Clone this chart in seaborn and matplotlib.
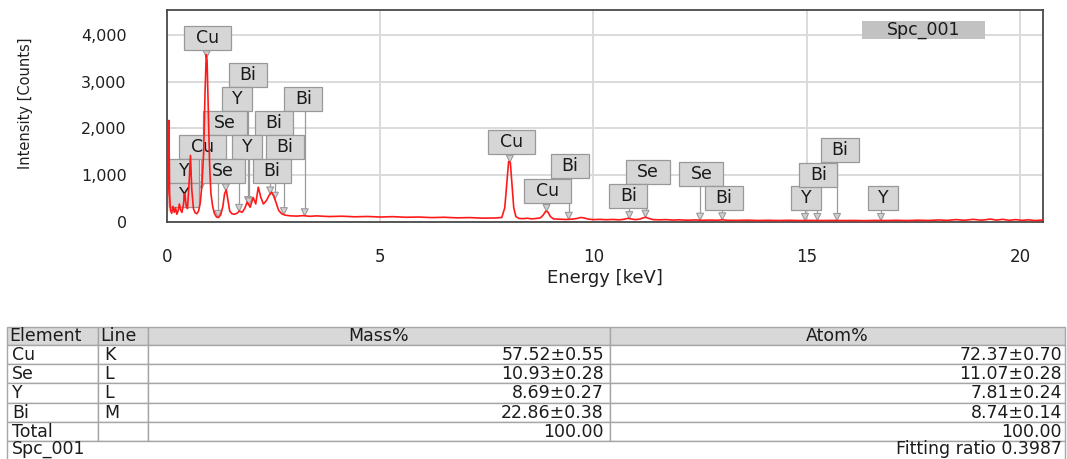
import numpy as np
import matplotlib
matplotlib.use("Agg")
import matplotlib.pyplot as plt
from matplotlib.patches import Rectangle, Polygon
from matplotlib.ticker import MultipleLocator, StrMethodFormatter
import seaborn as sns

# ---------------- spectrum (energy in keV, intensity in counts) ----------------
energy_kev = [
    0.00, 0.02, 0.03, 0.045, 0.06, 0.08, 0.11, 0.14, 0.17, 0.20, 0.23, 0.26, 0.29, 0.32,
    0.35, 0.38, 0.42, 0.45, 0.48, 0.51, 0.55, 0.58, 0.62, 0.66, 0.70, 0.74, 0.78, 0.82,
    0.86, 0.89, 0.92, 0.94, 0.97, 1.00, 1.03, 1.07, 1.11, 1.16, 1.21, 1.26, 1.31, 1.35,
    1.39, 1.43, 1.47, 1.52, 1.58, 1.64, 1.70, 1.76, 1.82, 1.88, 1.95, 2.02, 2.08, 2.14,
    2.20, 2.26, 2.33, 2.39, 2.45, 2.50, 2.56, 2.62, 2.69, 2.77, 2.90, 3.05, 3.20, 3.35,
    3.50, 3.80, 4.10, 4.40, 4.70, 5.00, 5.30, 5.60, 5.90, 6.20, 6.50, 6.80, 7.10, 7.40,
    7.70, 7.85, 7.92, 7.97, 8.01, 8.05, 8.09, 8.13, 8.18, 8.25, 8.35, 8.45, 8.55, 8.65,
    8.75, 8.82, 8.88, 8.93, 8.99, 9.06, 9.20, 9.35, 9.50, 9.62, 9.70, 9.78, 9.88, 10.00,
    10.15, 10.30, 10.45, 10.60, 10.72, 10.80, 10.88, 10.98, 11.08, 11.16, 11.22, 11.30,
    11.40, 11.55, 11.70, 11.85, 12.00, 12.20, 12.40, 12.55, 12.70, 12.90, 13.02, 13.15,
    13.35, 13.60, 13.85, 14.10, 14.35, 14.60, 14.85, 15.10, 15.35, 15.60, 15.85, 16.10,
    16.35, 16.60, 16.85, 17.10, 17.35, 17.60, 17.85, 18.10, 18.30, 18.50, 18.70, 18.90,
    19.10, 19.30, 19.45, 19.60, 19.75, 19.90, 20.05, 20.20, 20.35, 20.54,
]
counts = [
    60, 700, 900, 2170, 600, 250, 180, 330, 200, 300, 160, 230, 380, 250,
    200, 340, 600, 330, 280, 700, 1420, 700, 280, 190, 170, 230, 400, 800,
    1500, 2700, 3580, 3450, 2300, 1200, 600, 330, 180, 100, 90, 150, 330, 600,
    680, 450, 230, 170, 160, 180, 230, 200, 280, 420, 310, 520, 380, 740,
    520, 380, 450, 560, 630, 560, 400, 240, 170, 140, 125, 120, 130, 115,
    125, 110, 118, 105, 112, 100, 108, 95, 100, 88, 95, 82, 88, 76,
    80, 90, 300, 850, 1290, 1270, 800, 300, 110, 70, 65, 75, 60, 68,
    80, 140, 225, 210, 110, 60, 55, 48, 55, 70, 90, 80, 55, 45,
    50, 42, 48, 40, 52, 72, 60, 45, 55, 80, 95, 70,
    45, 40, 45, 35, 40, 32, 38, 30, 35, 30, 40, 30,
    28, 33, 26, 30, 25, 30, 24, 28, 25, 28, 24, 27,
    22, 28, 25, 30, 24, 32, 26, 38, 28, 45, 30, 50,
    32, 55, 35, 50, 30, 45, 28, 40, 25, 35,
]

# ---------------- identified lines ----------------
peak_elements = ["Cu", "Bi", "Y", "Bi", "Se", "Bi", "Cu", "Y", "Bi", "Y", "Y", "Se", "Bi",
                 "Cu", "Cu", "Bi", "Se", "Bi", "Se", "Bi", "Y", "Bi", "Bi", "Y"]
peak_energies = [0.93, 1.90, 1.69, 3.23, 1.20, 2.53, 0.81, 1.92, 2.74, 0.13, 0.20, 1.38, 2.42,
                 8.04, 8.90, 9.42, 11.22, 10.84, 12.50, 13.02, 14.96, 15.25, 15.71, 16.74]

# where each tag box sits: (box centre in keV, box bottom in counts)
tag_slots = [(0.95, 3679), (1.90, 2886), (1.65, 2372), (3.20, 2372), (1.35, 1858),
             (2.50, 1858), (0.83, 1343), (1.88, 1343), (2.76, 1343), (0.41, 829),
             (0.41, 315), (1.32, 829), (2.46, 829),
             (8.07, 1451), (8.93, 401), (9.44, 936), (11.27, 808), (10.82, 294),
             (12.53, 765), (13.06, 251), (14.98, 251), (15.27, 744), (15.77, 1279),
             (16.79, 251)]
tag_width_px = {"Cu": 47, "Bi": 38, "Y": 30, "Se": 44}

# ---------------- quantification table ----------------
table_elements = ["Cu", "Se", "Y", "Bi"]
table_lines = ["K", "L", "L", "M"]
mass_pct = ["57.52\u00b10.55", "10.93\u00b10.28", "8.69\u00b10.27", "22.86\u00b10.38"]
atom_pct = ["72.37\u00b10.70", "11.07\u00b10.28", "7.81\u00b10.24", "8.74\u00b10.14"]
total_mass = "100.00"
total_atom = "100.00"
spectrum_name = "Spc_001"
fitting_ratio = "Fitting ratio 0.3987"

# ---------------- figure ----------------
sns.set_style("white")
plt.rcParams["font.family"] = ["DejaVu Sans"]

W, H = 1067, 459
fig = plt.figure(figsize=(W / 100, H / 100), dpi=100)
ax_l, ax_r, ax_b, ax_t = 167, 1043, 221.7, 10.5
ax = fig.add_axes([ax_l / W, 1 - ax_b / H, (ax_r - ax_l) / W, (ax_b - ax_t) / H])

XMAX, YMAX = 20.54, 4525
ax.set_xlim(0, XMAX)
ax.set_ylim(0, YMAX)
kev_per_px = XMAX / (ax_r - ax_l)
cnt_per_px = YMAX / (ax_b - ax_t)

sns.lineplot(x=energy_kev, y=counts, ax=ax, color="#ff1a1a", linewidth=1.2,
             zorder=6, estimator=None, sort=False)

ax.xaxis.set_major_locator(MultipleLocator(5))
ax.xaxis.set_minor_locator(MultipleLocator(1))
ax.yaxis.set_major_locator(MultipleLocator(1000))
ax.yaxis.set_minor_locator(MultipleLocator(200))
ax.yaxis.set_major_formatter(StrMethodFormatter("{x:,.0f}"))
ax.grid(True, which="major", color="#dadada", linewidth=1.4, zorder=0)
ax.set_axisbelow(True)

tick_col = "#3c3c3c"
ax.tick_params(axis="y", which="major", direction="out", length=19.5, width=0.9,
               color=tick_col, pad=9.5, labelsize=11.5, labelcolor="#202020")
ax.tick_params(axis="y", which="minor", direction="out", length=5.8, width=0.9, color=tick_col)
ax.tick_params(axis="x", which="major", direction="out", length=9.4, width=0.9,
               color=tick_col, pad=9.5, labelsize=12, labelcolor="#202020")
ax.tick_params(axis="x", which="minor", direction="out", length=3.8, width=0.9, color=tick_col)
for s in ax.spines.values():
    s.set_color("#4a4a4a")
    s.set_linewidth(1.3)

ax.set_xlabel("Energy [keV]", fontsize=13, color="#202020")
ax.xaxis.set_label_coords(0.5, -0.225)
ax.set_ylabel("Intensity [Counts]", fontsize=10.5, color="#202020")
ax.yaxis.set_label_coords(-0.153, 0.562)

# element tags
box_h = 24 * cnt_per_px
notch_w = 3.5 * kev_per_px
notch_h = 7 * cnt_per_px
for el, e, (cx, yb) in zip(peak_elements, peak_energies, tag_slots):
    tip = float(np.interp(e, energy_kev, counts))
    w = tag_width_px[el] * kev_per_px
    if yb > tip + notch_h:
        ax.plot([e, e], [tip + notch_h, yb], color="#9a9a9a", linewidth=0.9, zorder=2)
    ax.add_patch(Polygon([(e - notch_w, tip + notch_h), (e + notch_w, tip + notch_h), (e, tip)],
                         closed=True, facecolor="#d0d0d0", edgecolor="#9a9a9a",
                         linewidth=0.8, zorder=2))
    ax.add_patch(Rectangle((cx - w / 2, yb), w, box_h, facecolor="#d6d6d6",
                           edgecolor="#999999", linewidth=0.9, zorder=3))
    ax.text(cx, yb + box_h / 2, el, ha="center", va="center", fontsize=12.5,
            color="#1a1a1a", zorder=4)

# spectrum name tag
sx0, sx1 = 862 * 1.0, 985 * 1.0
ax.add_patch(Rectangle(((sx0 - ax_l) * kev_per_px, (ax_b - 39) * cnt_per_px),
                       (sx1 - sx0) * kev_per_px, 18 * cnt_per_px,
                       facecolor="#c2c2c2", edgecolor="none", zorder=3))
ax.text(((sx0 + sx1) / 2 - ax_l) * kev_per_px, (ax_b - 30) * cnt_per_px, spectrum_name,
        ha="center", va="center", fontsize=12.5, color="#1a1a1a", zorder=4)

# ---------------- table, laid out in figure pixels ----------------
tab = fig.add_axes([0, 0, 1, 1], facecolor="none")
tab.set_xlim(0, W)
tab.set_ylim(H, 0)
tab.axis("off")

col_x = [7, 98, 148, 610, 1065]
row_y = [327, 345, 364, 383, 403, 422, 441, 466]
border = "#a6a6a6"
txt = "#1c1c1c"
fs = 12.5

def cell(x0, x1, y0, y1, fc):
    tab.add_patch(Rectangle((x0, y0), x1 - x0, y1 - y0, facecolor=fc,
                            edgecolor=border, linewidth=1.0))

for i in range(4):
    cell(col_x[i], col_x[i + 1], row_y[0], row_y[1], "#d8d8d8")
yh = (row_y[0] + row_y[1]) / 2
tab.text(9, yh, "Element", ha="left", va="center", fontsize=fs, color=txt)
tab.text(100, yh, "Line", ha="left", va="center", fontsize=fs, color=txt)
tab.text((col_x[2] + col_x[3]) / 2, yh, "Mass%", ha="center", va="center", fontsize=fs, color=txt)
tab.text((col_x[3] + col_x[4]) / 2, yh, "Atom%", ha="center", va="center", fontsize=fs, color=txt)

body = list(zip(table_elements, table_lines, mass_pct, atom_pct)) + [("Total", "", total_mass, total_atom)]
for r, (el, ln, m, a) in enumerate(body):
    y0, y1 = row_y[r + 1], row_y[r + 2]
    for i in range(4):
        cell(col_x[i], col_x[i + 1], y0, y1, "white")
    yc = (y0 + y1) / 2 + 0.5
    tab.text(12, yc, el, ha="left", va="center", fontsize=fs, color=txt)
    tab.text(104, yc, ln, ha="left", va="center", fontsize=fs, color=txt)
    tab.text(col_x[3] - 6, yc, m, ha="right", va="center", fontsize=fs, color=txt)
    tab.text(col_x[4] - 3, yc, a, ha="right", va="center", fontsize=fs, color=txt)

cell(col_x[0], col_x[4], row_y[6], row_y[7], "white")
tab.text(12, 449, spectrum_name, ha="left", va="center", fontsize=fs, color=txt)
tab.text(col_x[4] - 3, 449, fitting_ratio, ha="right", va="center", fontsize=fs, color=txt)

fig.savefig("out.png", dpi=100)
